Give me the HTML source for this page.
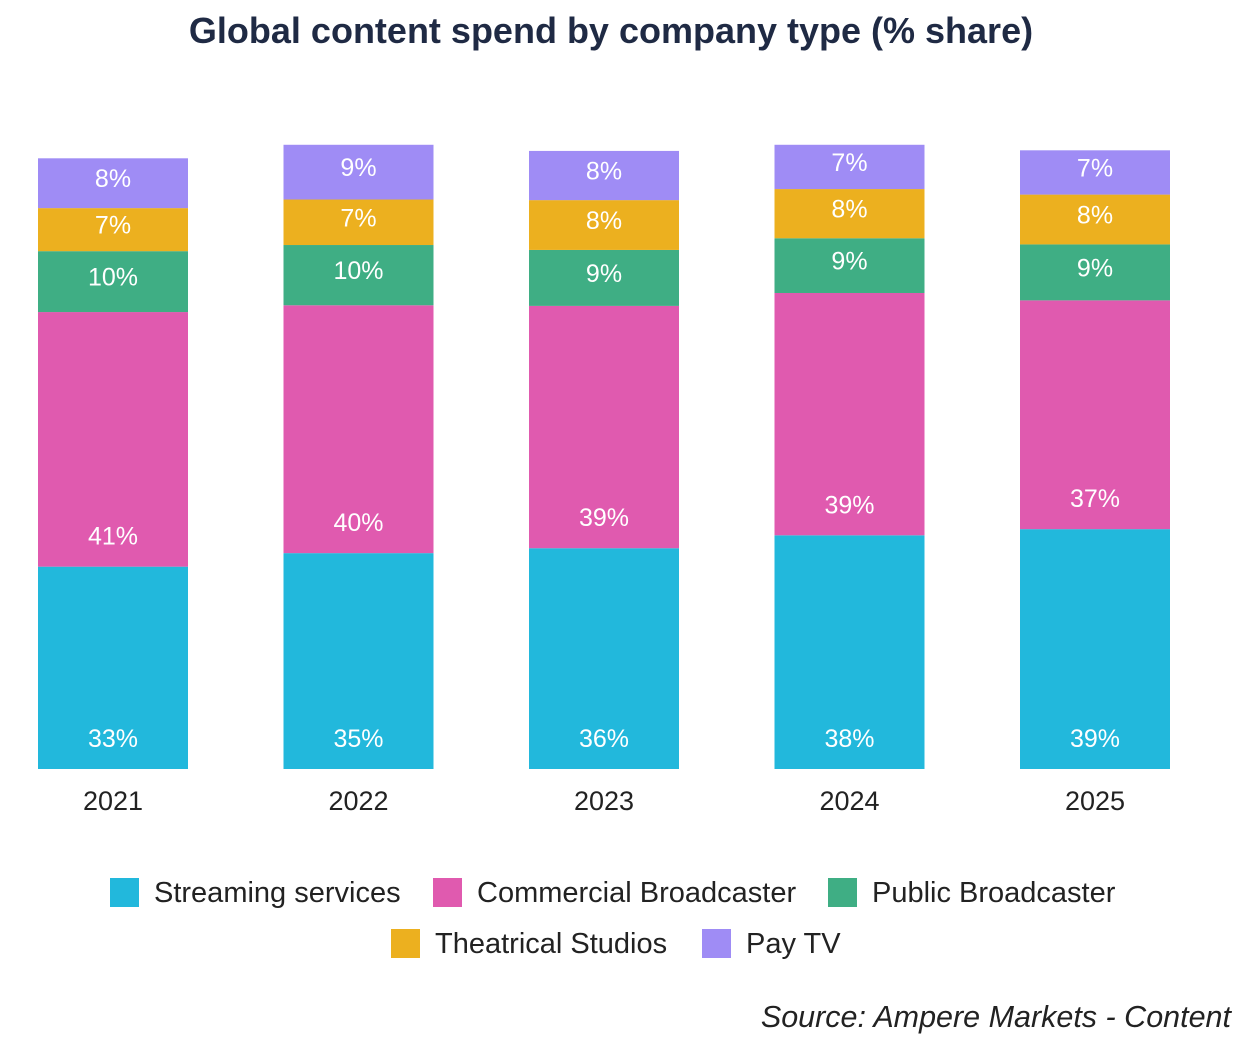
<!DOCTYPE html>
<html><head><meta charset="utf-8"><style>
body{margin:0;background:#fff;width:1253px;height:1034px;overflow:hidden;font-family:"Liberation Sans",sans-serif;}
svg text{font-family:"Liberation Sans",sans-serif;}
</style></head><body>
<svg id="chart" width="1253" height="1034">
<text x="611" y="43" text-anchor="middle" font-size="36" font-weight="bold" fill="#1f2a44">Global content spend by company type (% share)</text>
<g id="bars"></g>
<g id="legend"></g>
<text x="1231" y="1027" text-anchor="end" font-size="30.5" font-style="italic" fill="#222">Source: Ampere Markets - Content</text>
</svg>
<script>
const years = ["2021","2022","2023","2024","2025"];
const seriesNames = ["Streaming services","Commercial Broadcaster","Public Broadcaster","Theatrical Studios","Pay TV"];
const streaming = [32.9, 35.1, 35.9, 38.0, 39.0];
const commercial = [41.4, 40.3, 39.4, 39.4, 37.2];
const publicB = [9.9, 9.8, 9.1, 8.9, 9.1];
const theatrical = [7.0, 7.4, 8.1, 8.0, 8.1];
const payTV = [8.1, 8.9, 8.0, 7.2, 7.2];
const colors = ["#22b8dc","#e05aaf","#3fae84","#ecb01f","#9f8cf5"];
const series = [streaming, commercial, publicB, theatrical, payTV];
const NS = "http://www.w3.org/2000/svg";
const base = 769, scale = 6.15, x0 = 113, step = 245.5, bw = 150;
const y = v => base - v * scale;
const xc = i => x0 + i * step;
const gb = document.getElementById("bars");
years.forEach((yr, i) => {
  let cum = 0;
  series.forEach((s, k) => {
    const v = s[i];
    const top = y(cum + v), bot = y(cum);
    const r = document.createElementNS(NS, "rect");
    r.setAttribute("x", xc(i) - bw/2); r.setAttribute("y", top);
    r.setAttribute("width", bw); r.setAttribute("height", bot - top);
    r.setAttribute("fill", colors[k]);
    
    
    gb.appendChild(r);
    const t = document.createElementNS(NS, "text");
    const h = bot - top;
    const ty = h > 100 ? bot - 22 : (top + bot) / 2 + 4;
    t.setAttribute("x", xc(i)); t.setAttribute("y", ty);
    t.setAttribute("text-anchor", "middle"); t.setAttribute("font-size", "25");
    t.setAttribute("fill", "#fff");
    t.textContent = Math.round(v) + "%";
    
    
    gb.appendChild(t);
    cum += v;
  });
  const yl = document.createElementNS(NS, "text");
  yl.setAttribute("x", xc(i)); yl.setAttribute("y", 810);
  yl.setAttribute("text-anchor", "middle"); yl.setAttribute("font-size", "27");
  yl.setAttribute("fill", "#222");
  yl.textContent = yr;
  
  
  gb.appendChild(yl);
});
const legendPos = [[110,878],[433,878],[828,878],[391,929],[702,929]];
const gl = document.getElementById("legend");
seriesNames.forEach((n, k) => {
  const g = document.createElementNS(NS, "g");
  
  
  const r = document.createElementNS(NS, "rect");
  r.setAttribute("x", legendPos[k][0]); r.setAttribute("y", legendPos[k][1]);
  r.setAttribute("width", 29); r.setAttribute("height", 29); r.setAttribute("fill", colors[k]);
  g.appendChild(r);
  const t = document.createElementNS(NS, "text");
  t.setAttribute("x", legendPos[k][0] + 44); t.setAttribute("y", legendPos[k][1] + 24);
  t.setAttribute("font-size", "29"); t.setAttribute("fill", "#222");
  t.textContent = n;
  g.appendChild(t);
  gl.appendChild(g);
});
</script>
</body></html>
